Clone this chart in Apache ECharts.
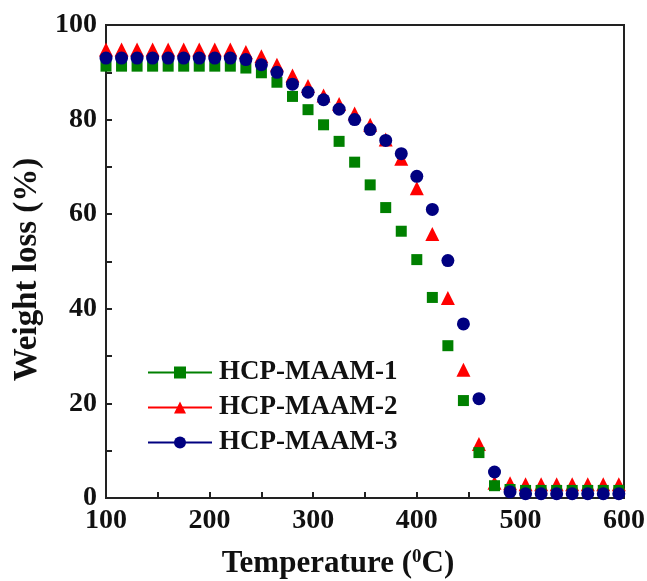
<!DOCTYPE html>
<html>
<head>
<meta charset="utf-8">
<script src="https://cdn.jsdelivr.net/npm/echarts@6/dist/echarts.min.js"></script>
<style>
html,body{margin:0;padding:0;background:#fff;}
#chart{width:647px;height:581px;}
</style>
</head>
<body>
<div id="chart"></div>
<script>
const temps = [100,115,130,145,160,175,190,205,220,235,250,265,280,295,310,325,340,355,370,385,400,415,430,445,460,475,490,505,520,535,550,565,580,595];
const seriesNames = ['HCP-MAAM-1','HCP-MAAM-2','HCP-MAAM-3'];
const maam1 = [91.3,91.3,91.3,91.3,91.3,91.3,91.3,91.3,91.3,90.9,89.9,87.9,84.9,82.1,78.9,75.4,71.0,66.2,61.4,56.4,50.4,42.4,32.2,20.6,9.6,2.6,1.8,1.6,1.6,1.6,1.6,1.6,1.6,1.6];
const maam2 = [94.8,94.8,94.8,94.8,94.8,94.8,94.8,94.8,94.8,94.3,93.4,91.6,89.3,87.1,85.1,83.3,81.3,78.9,75.8,71.7,65.5,55.8,42.3,27.1,11.4,3.2,3.1,2.9,2.9,2.9,2.9,2.9,2.9,2.9];
const maam3 = [93.0,93.0,93.0,93.0,93.0,93.0,93.0,93.0,93.0,92.7,91.6,90.0,87.5,85.8,84.2,82.2,80.0,77.9,75.6,72.8,68.0,61.0,50.2,36.8,21.0,5.5,1.3,0.9,0.9,0.9,0.9,0.9,0.9,0.9];
const xTicks = [100,200,300,400,500,600];
const yTicks = [0,20,40,60,80,100];

const FONT = '"Liberation Serif","Times New Roman",serif';
const AX = '#222';
function pairs(vals){ return temps.map((t,i)=>[t, vals[i]]); }
function mk(name, vals, color, symbol, size){
  return {
    name: name, type: 'line', data: pairs(vals),
    symbol: symbol, symbolSize: size, showSymbol: true,
    itemStyle: {color: color},
    lineStyle: {color: color, width: 2, opacity: 0},
    emphasis: {disabled: true},
    animation: false
  };
}

const chart = echarts.init(document.getElementById('chart'));
chart.setOption({
  backgroundColor: '#fff',
  animation: false,
  grid: {left: 106, right: 23, top: 25, bottom: 83, outerBoundsMode: 'none', containLabel: false,
    show: true, borderColor: AX, borderWidth: 2, backgroundColor: 'transparent'},
  legend: {
    data: seriesNames,
    orient: 'vertical', left: 147, top: 359, padding: 0,
    itemWidth: 64, itemHeight: 15, itemGap: 8,
    lineStyle: {opacity: 1},
    textStyle: {fontFamily: FONT, fontWeight: 'bold', fontSize: 27, color: '#111', lineHeight: 20, padding: [0,0,0,2]},
    selectedMode: false
  },
  xAxis: {
    type: 'value', min: xTicks[0], max: xTicks[xTicks.length-1], interval: 100,
    name: 'Temperature ({sup|0}C)', nameLocation: 'middle', nameGap: 50,
    nameTextStyle: {fontFamily: FONT, fontWeight: 'bold', fontSize: 31, color: '#111', padding: [0,54,0,0],
      rich: {sup: {fontFamily: FONT, fontWeight: 'bold', fontSize: 19, color: '#111', verticalAlign: 'top', padding: [0,0,12,0]}}},
    axisLine: {show: true, lineStyle: {color: AX, width: 2}},
    axisTick: {show: true, inside: true, length: 6, lineStyle: {color: AX, width: 2}},
    minorTick: {show: true, splitNumber: 2, length: 6, lineStyle: {color: AX, width: 2}},
    splitLine: {show: false},
    axisLabel: {fontFamily: FONT, fontWeight: 'bold', fontSize: 28, color: '#111', margin: 9}
  },
  yAxis: {
    type: 'value', min: yTicks[0], max: yTicks[yTicks.length-1], interval: 20,
    name: 'Weight loss (%)', nameLocation: 'middle', nameRotate: 90, nameGap: 58,
    nameTextStyle: {fontFamily: FONT, fontWeight: 'bold', fontSize: 33, color: '#111', padding: [0,16,0,0]},
    axisLine: {show: true, lineStyle: {color: AX, width: 2}},
    axisTick: {show: true, inside: true, length: 6, lineStyle: {color: AX, width: 2}},
    minorTick: {show: true, splitNumber: 2, length: 6, lineStyle: {color: AX, width: 2}},
    splitLine: {show: false},
    axisLabel: {fontFamily: FONT, fontWeight: 'bold', fontSize: 28, color: '#111', margin: 9}
  },
  series: [
    mk(seriesNames[1], maam2, '#ff0000', 'triangle', 14),
    mk(seriesNames[0], maam1, '#008000', 'rect', 11),
    mk(seriesNames[2], maam3, '#000080', 'circle', 13)
  ]
});
</script>
</body>
</html>
